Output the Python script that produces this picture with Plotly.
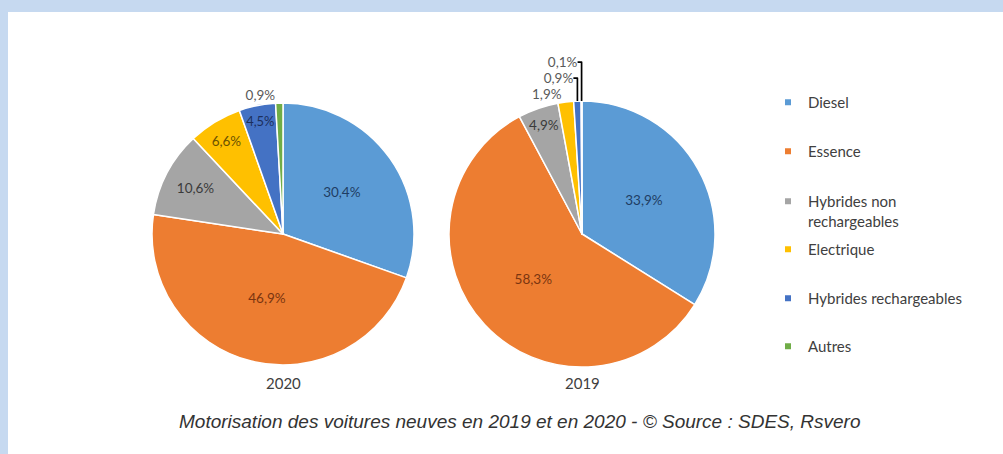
import plotly.graph_objects as go

categories = ["Diesel", "Essence", "Hybrides non rechargeables", "Electrique",
              "Hybrides rechargeables", "Autres"]
legend_names = ["Diesel", "Essence", "Hybrides non<br>rechargeables", "Electrique",
                "Hybrides rechargeables", "Autres"]
values_2020 = [30.4, 46.9, 10.6, 6.6, 4.5, 0.9]
values_2019 = [33.9, 58.3, 4.9, 1.9, 0.9, 0.1]
years = ["2020", "2019"]

colors = ["#5b9bd5", "#ed7d31", "#a5a5a5", "#ffc000", "#4472c4", "#70ad47"]
text_colors = ["#1f3d63", "#7a3510", "#3a3a3a", "#6b5200", "#1c2f5c", "#595959"]

W, H = 1003, 454


def fmt(v):
    return f"{v:.1f}%".replace(".", ",")


def dom(cx, cy, r):
    return dict(x=[(cx - r) / W, (cx + r) / W], y=[(H - cy - r) / H, (H - cy + r) / H])


fig = go.Figure()

pie_specs = [
    (values_2020, years[0], (283, 234, 131), ["inside"] * 5 + ["outside"]),
    (values_2019, years[1], (582, 234, 133), ["inside"] * 3 + ["outside"] * 3),
]
for vals, yr, (cx, cy, r), pos in pie_specs:
    tcol = [text_colors[i] if pos[i] == "inside" else "#595959" for i in range(len(vals))]
    fig.add_trace(go.Pie(
        labels=categories,
        values=vals,
        text=[fmt(v) for v in vals],
        textinfo="text",
        textposition=pos,
        insidetextorientation="horizontal",
        textfont=dict(family="Lato", size=13.5, color=tcol),
        marker=dict(colors=colors, line=dict(color="white", width=1.5)),
        sort=False,
        direction="clockwise",
        rotation=0,
        domain=dom(cx, cy, r),
        showlegend=False,
        hovertemplate="%{label}: %{text}<extra>" + yr + "</extra>",
    ))
    fig.add_annotation(
        text=yr, x=cx / W, y=(H - 383) / H, xref="paper", yref="paper",
        xanchor="center", yanchor="middle", showarrow=False,
        font=dict(family="Lato", size=15, color="#404040"),
    )

# Legend entries (one legend per item for Excel-like spacing)
legend_tops = [86, 135, 185, 233, 282, 330]
for i, (name, col) in enumerate(zip(legend_names, colors)):
    lg = "legend" if i == 0 else f"legend{i + 1}"
    fig.add_trace(go.Scatter(
        x=[None], y=[None], mode="markers", name=name,
        marker=dict(symbol="square", size=6, color=col),
        legend=lg, showlegend=True, hoverinfo="skip",
    ))
    fig.layout[lg] = dict(
        x=768 / W, xanchor="left", y=(H - legend_tops[i]) / H, yanchor="top",
        bgcolor="rgba(0,0,0,0)", valign="top",
        font=dict(family="Lato", size=15, color="#404040"),
    )

fig.add_annotation(
    text="<i>Motorisation des voitures neuves en 2019 et en 2020 - © Source : SDES, Rsvero</i>",
    x=519 / W, y=(H - 421) / H, xref="paper", yref="paper",
    xanchor="center", yanchor="middle", showarrow=False,
    font=dict(family="Liberation Sans", size=19, color="#333333"),
)

# page frame (light blue border on top and left)
fig.add_shape(type="rect", xref="paper", yref="paper", x0=0, x1=8 / W, y0=0, y1=1,
              fillcolor="#c6d9f0", line=dict(width=0), layer="below")
fig.add_shape(type="rect", xref="paper", yref="paper", x0=0, x1=1, y0=1 - 12 / H, y1=1,
              fillcolor="#c6d9f0", line=dict(width=0), layer="below")

fig.update_layout(
    width=W, height=H,
    margin=dict(l=0, r=0, t=0, b=0),
    paper_bgcolor="white", plot_bgcolor="white",
    xaxis=dict(visible=False), yaxis=dict(visible=False),
)

fig.write_html("out.html", config={"displayModeBar": False},
               post_script="document.body.style.margin='0';")
